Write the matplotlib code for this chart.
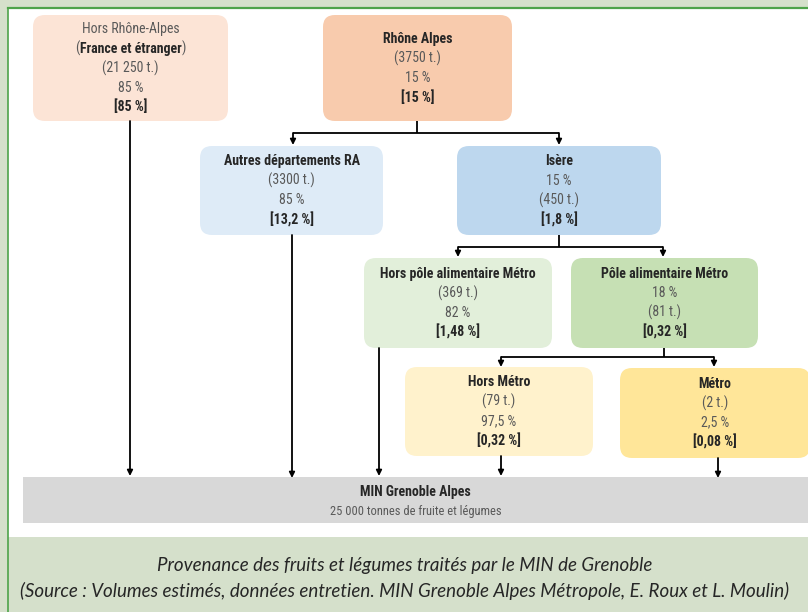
import matplotlib.pyplot as plt
from matplotlib import font_manager
from matplotlib.patches import FancyBboxPatch, Rectangle
from matplotlib.offsetbox import TextArea, HPacker, AnnotationBbox


# pick a narrow font for the boxes if one is there
def pick_font(names):
    for name in names:
        try:
            font_manager.findfont(name, fallback_to_default=False)
            return name
        except Exception:
            pass
    return "DejaVu Sans"

box_font = pick_font(["Liberation Sans Narrow", "DejaVu Sans Condensed", "Roboto Condensed", "DejaVu Sans"])
cap_font = pick_font(["Lato", "Open Sans", "DejaVu Sans"])

# data
noms = ["Hors Rhône-Alpes", "Rhône Alpes", "Autres départements RA", "Isère",
        "Hors pôle alimentaire Métro", "Pôle alimentaire Métro", "Hors Métro", "Métro"]
tonnes = ["21 250", "3750", "3300", "450", "369", "81", "79", "2"]
part_locale = ["85", "15", "85", "15", "82", "18", "97,5", "2,5"]
part_totale = ["85", "15", "13,2", "1,8", "1,48", "0,32", "0,32", "0,08"]
pct_first = [False, False, False, True, False, True, False, False]

total_min = "25 000"
titre = "MIN Grenoble Alpes"
legende = ["Provenance des fruits et légumes traités par le MIN de Grenoble",
           "(Source : Volumes estimés, données entretien. MIN Grenoble Alpes Métropole, E. Roux et L. Moulin)"]

# layout in pixels (x0, y0, x1, y1)
boites = [(33, 15, 228, 121), (323, 15, 512, 121), (200, 146, 383, 235), (457, 146, 661, 235),
          (364, 258, 552, 348), (571, 258, 758, 348), (405, 367, 593, 456), (620, 368, 810, 458)]
couleurs = ["#fce4d6", "#f8cbad", "#deebf7", "#bdd7ee", "#e2efda", "#c6e0b4", "#fff2cc", "#ffe699"]

fig = plt.figure(figsize=(8.08, 6.12), dpi=100)
fig.patch.set_facecolor("#d5e0cb")
ax = fig.add_axes([0, 0, 1, 1])
ax.set_xlim(0, 808)
ax.set_ylim(612, 0)
ax.axis("off")

# white panel with green frame
ax.add_patch(Rectangle((8, 8), 820, 529, facecolor="white", edgecolor="none", zorder=0))
ax.plot([8, 808], [8, 8], color="#4ea34a", lw=1.6, zorder=1)
ax.plot([8, 8], [8, 612], color="#4ea34a", lw=1.2, zorder=1)

gris = "#595959"
noir = "#262626"
fs = 10
pas = 19.5

for i, (x0, y0, x1, y1) in enumerate(boites):
    ax.add_patch(FancyBboxPatch((x0, y0), x1 - x0, y1 - y0,
                                boxstyle="round,pad=0,rounding_size=12",
                                facecolor=couleurs[i], edgecolor="none", zorder=2))
    cx = (x0 + x1) / 2
    cy = (y0 + y1) / 2
    lignes = [(noms[i], "bold" if i > 0 else "normal", noir if i > 0 else gris)]
    if i == 0:
        lignes.append(("__special__", "bold", noir))
    t = ("(" + tonnes[i] + " t.)", "normal", gris)
    p = (part_locale[i] + " %", "normal", gris)
    lignes += [p, t] if pct_first[i] else [t, p]
    lignes.append(("[" + part_totale[i] + " %]", "bold", noir))
    n = len(lignes)
    for k, (txt, w, c) in enumerate(lignes):
        y = cy + (k - (n - 1) / 2) * pas
        if txt == "__special__":
            parts = [TextArea("(", textprops=dict(fontfamily=box_font, fontsize=fs, color=gris)),
                     TextArea("France et étranger", textprops=dict(fontfamily=box_font, fontsize=fs,
                                                                  fontweight="bold", color=noir)),
                     TextArea(")", textprops=dict(fontfamily=box_font, fontsize=fs, color=gris))]
            pack = HPacker(children=parts, pad=0, sep=0)
            ab = AnnotationBbox(pack, (cx, y), frameon=False, box_alignment=(0.5, 0.5), zorder=4)
            ax.add_artist(ab)
        else:
            ax.text(cx, y, txt, ha="center", va="center", fontsize=fs, fontweight=w,
                    color=c, fontfamily=box_font, zorder=4)

# MIN bar
ax.add_patch(Rectangle((23, 477), 800, 46, facecolor="#d8d8d8", edgecolor="none", zorder=2))
ax.text(415.5, 492, titre, ha="center", va="center", fontsize=fs, fontweight="bold",
        color=noir, fontfamily=box_font, zorder=4)
ax.text(415.5, 512, total_min + " tonnes de fruite et légumes", ha="center", va="center",
        fontsize=9, color=gris, fontfamily=box_font, zorder=4)

# connectors
lw = 1.3
def seg(xs, ys):
    ax.plot(xs, ys, color="black", lw=lw, zorder=3, solid_capstyle="butt")

def fleche(x, ya, yb):
    ax.annotate("", xy=(x, yb), xytext=(x, ya),
                arrowprops=dict(arrowstyle="-|>", color="black", lw=lw,
                                mutation_scale=8, shrinkA=0, shrinkB=0), zorder=3)

# split connectors: (stem x, y top, y bar, left x, right x, y tip)
splits = [(417, 121, 133, 293, 559, 145), (559, 235, 247, 458, 663, 257), (664, 348, 357, 501, 714, 367)]
for sx, yt, yb, xl, xr, ytip in splits:
    seg([sx, sx], [yt, yb])
    seg([xl, xr], [yb, yb])
    fleche(xl, yb, ytip)
    fleche(xr, yb, ytip)

# straight drops into the MIN bar
fleche(130, 121, 476)
fleche(292, 235, 478)
fleche(379, 348, 476)
fleche(501, 456, 476)
fleche(718, 458, 478)

# caption
ax.text(405, 566, legende[0], ha="center", va="center", fontsize=13.5, style="italic",
        color="#262626", fontfamily=cap_font)
ax.text(405, 591, legende[1], ha="center", va="center", fontsize=13.5, style="italic",
        color="#262626", fontfamily=cap_font)

fig.savefig("out.png", dpi=100, facecolor=fig.get_facecolor())
